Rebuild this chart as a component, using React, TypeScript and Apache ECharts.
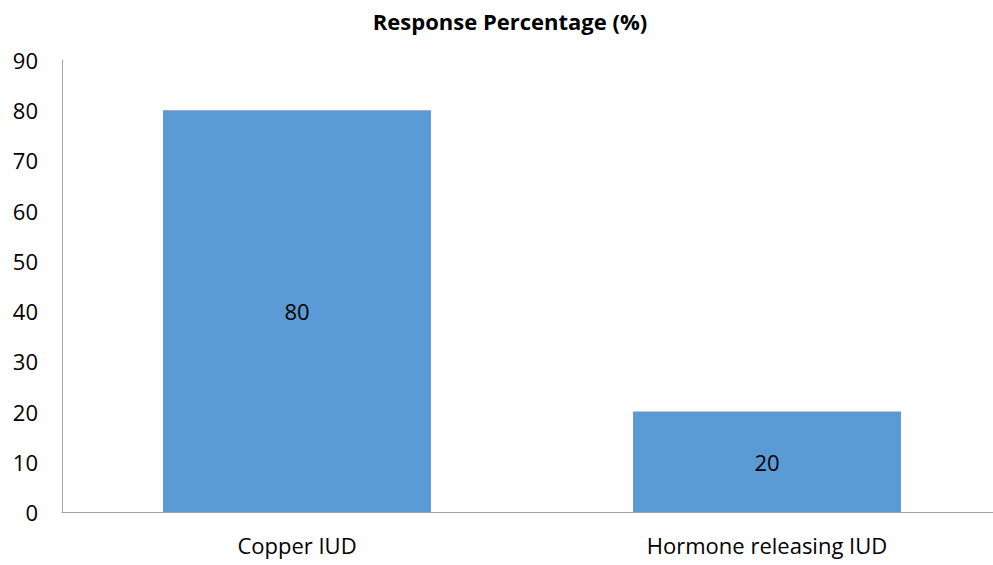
import React, { useEffect, useRef } from "react";
import * as echarts from "echarts";

const categories = ["Copper IUD", "Hormone releasing IUD"];
const values = [80, 20];
const yTicks = { min: 0, max: 90, interval: 10 };
const titleText = "Response Percentage (%)";

export default function App() {
  const ref = useRef<HTMLDivElement>(null);
  useEffect(() => {
    if (!ref.current) return;
    const chart = echarts.init(ref.current, null, { renderer: "svg" });
    const font = "'Open Sans', 'Noto Sans', sans-serif";
    chart.setOption({
      animation: false,
      backgroundColor: "#ffffff",
      title: {
        text: titleText,
        left: 505,
        top: 5,
        textAlign: "center",
        textStyle: { fontFamily: font, fontSize: 22, fontWeight: "bold", color: "#000" },
      },
      grid: { left: 62, right: 0, top: 60, bottom: 53, containLabel: false },
      xAxis: {
        type: "category",
        data: categories,
        axisLine: { show: true, lineStyle: { color: "#a6a6a6", width: 1 } },
        axisTick: { show: false },
        axisLabel: { fontFamily: font, fontSize: 22, color: "#000", margin: 22 },
      },
      yAxis: {
        type: "value",
        min: yTicks.min,
        max: yTicks.max,
        interval: yTicks.interval,
        axisLine: { show: true, lineStyle: { color: "#a6a6a6", width: 1 } },
        axisTick: { show: false },
        splitLine: { show: false },
        axisLabel: { fontFamily: font, fontSize: 22, color: "#000", margin: 24 },
      },
      series: [
        {
          type: "bar",
          data: values,
          barWidth: "57%",
          itemStyle: { color: "#5b9bd5" },
          label: {
            show: true,
            position: "inside",
            fontFamily: font,
            fontSize: 22,
            color: "#000",
          },
        },
      ],
    });
    return () => chart.dispose();
  }, []);
  return (
    <div
      style={{ position: "fixed", left: 0, top: 0, width: 993, height: 565, overflow: "hidden", background: "#fff" }}
    >
      <div ref={ref} style={{ width: 1002, height: 565 }} />
    </div>
  );
}
